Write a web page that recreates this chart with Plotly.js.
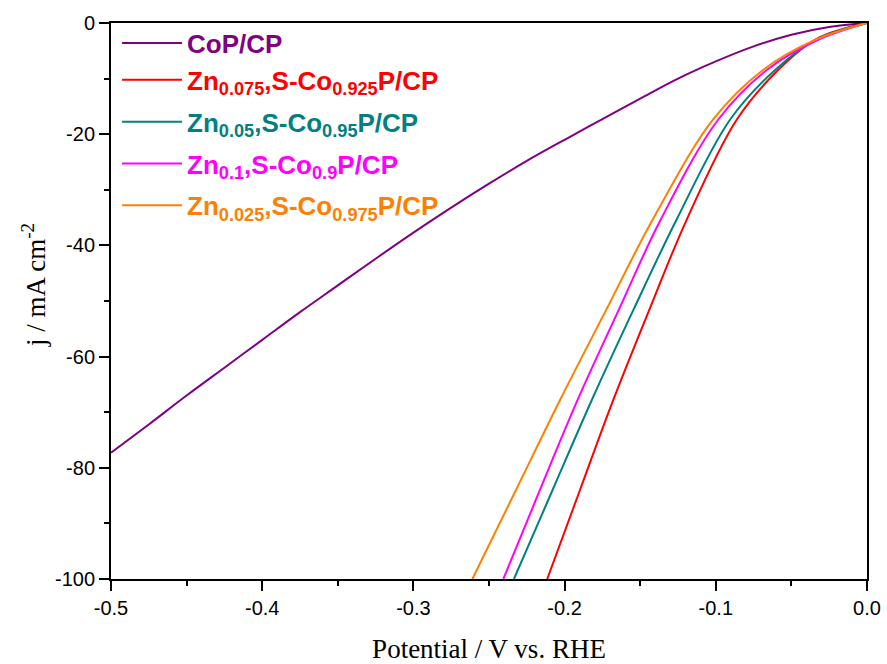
<!DOCTYPE html>
<html>
<head>
<meta charset="utf-8">
<script src="https://cdn.plot.ly/plotly-3.0.1.min.js"></script>
<style>html,body{margin:0;padding:0;background:#fff;}#chart{width:887px;height:664px;}</style>
</head>
<body>
<div id="chart"></div>
<script>
// Series names (legend labels)
const names = [
  'CoP/CP',
  'Zn<sub>0.075</sub>,S-Co<sub>0.925</sub>P/CP',
  'Zn<sub>0.05</sub>,S-Co<sub>0.95</sub>P/CP',
  'Zn<sub>0.1</sub>,S-Co<sub>0.9</sub>P/CP',
  'Zn<sub>0.025</sub>,S-Co<sub>0.975</sub>P/CP'
];
const colors = ['#800080', '#ff0000', '#008080', '#ff00ff', '#ff8000'];
const groups = ['a', 'a', 'b', 'c', 'd'];

// CoP/CP
const cop_V = [-0.5, -0.475, -0.45, -0.425, -0.4, -0.375, -0.35, -0.325, -0.3, -0.275, -0.25, -0.225, -0.2, -0.175, -0.15, -0.125, -0.1, -0.075, -0.05, -0.025, 0];
const cop_j = [-77.3, -72.2, -67.0, -62.0, -57.0, -52.0, -47.2, -42.4, -37.7, -33.2, -28.9, -24.8, -21.0, -17.3, -13.6, -10.0, -6.9, -4.2, -2.1, -0.7, 0];

// Zn0.075,S-Co0.925P/CP
const zn075_V = [-0.2115, -0.1897, -0.1678, -0.1440, -0.1193, -0.0862, -0.0588, -0.033, 0];
const zn075_j = [-100, -83.9, -67.8, -51.6, -35.4, -17.4, -8.45, -2.8, 0];

// Zn0.05,S-Co0.95P/CP
const zn05_V = [-0.2335, -0.2078, -0.1820, -0.1545, -0.1260, -0.0906, -0.0608, -0.033, 0];
const zn05_j = [-100, -83.9, -67.8, -51.6, -35.4, -17.4, -8.45, -2.9, 0];

// Zn0.1,S-Co0.9P/CP
const zn1_V = [-0.2405, -0.2162, -0.1914, -0.1642, -0.1365, -0.0985, -0.0663, -0.033, 0];
const zn1_j = [-100, -83.9, -67.8, -51.6, -35.4, -17.4, -8.45, -3.1, 0];

// Zn0.025,S-Co0.975P/CP
const zn025_V = [-0.2610, -0.2320, -0.2030, -0.1725, -0.1418, -0.1019, -0.0688, -0.034, 0];
const zn025_j = [-100, -83.9, -67.8, -51.6, -35.4, -17.4, -8.45, -3.0, 0];

const xs = [cop_V, zn075_V, zn05_V, zn1_V, zn025_V];
const ys = [cop_j, zn075_j, zn05_j, zn1_j, zn025_j];

const xTickVals = [-0.5, -0.4, -0.3, -0.2, -0.1, 0.0];
const xTickText = ['-0.5', '-0.4', '-0.3', '-0.2', '-0.1', '0.0'];
const yTickVals = [-100, -80, -60, -40, -20, 0];
const yTickText = ['-100', '-80', '-60', '-40', '-20', '0'];

const traces = names.map((n, i) => ({
  x: xs[i], y: ys[i], type: 'scatter', mode: 'lines',
  line: {color: colors[i], width: 2, shape: 'spline', smoothing: 1.0},
  name: '<span style="color:' + colors[i] + '"><b>' + n + '</b></span>',
  legendgroup: groups[i]
}));

const tickFont = {family: 'Liberation Sans, Arial, sans-serif', size: 20, color: '#000'};
const titleFont = {family: 'Liberation Serif, Times New Roman, serif', size: 27, color: '#000'};

const layout = {
  width: 887, height: 664,
  margin: {l: 111, r: 20, t: 23, b: 85},
  paper_bgcolor: '#fff', plot_bgcolor: '#fff',
  showlegend: true,
  legend: {
    x: 0.008, y: 1.006, xanchor: 'left', yanchor: 'top',
    bgcolor: 'rgba(0,0,0,0)', borderwidth: 0,
    font: {family: 'Liberation Sans, Arial, sans-serif', size: 26, color: '#000'},
    tracegroupgap: 5, itemwidth: 60, traceorder: 'grouped'
  },
  xaxis: {
    range: [-0.5, 0], tickvals: xTickVals, ticktext: xTickText,
    ticks: 'outside', ticklen: 10, tickwidth: 2, tickcolor: '#000',
    minor: {dtick: 0.05, tick0: 0, ticks: 'outside', ticklen: 5, tickwidth: 2, tickcolor: '#000', showgrid: false},
    showline: true, linewidth: 2, linecolor: '#000', mirror: true,
    showgrid: false, zeroline: false, tickfont: tickFont,
    title: {text: 'Potential / V vs. RHE', font: titleFont, standoff: 21}
  },
  yaxis: {
    range: [-100, 0], tickvals: yTickVals, ticktext: yTickText,
    ticks: 'outside', ticklen: 10, tickwidth: 2, tickcolor: '#000',
    minor: {dtick: 10, tick0: 0, ticks: 'outside', ticklen: 5, tickwidth: 2, tickcolor: '#000', showgrid: false},
    showline: true, linewidth: 2, linecolor: '#000', mirror: true,
    showgrid: false, zeroline: false, tickfont: tickFont
  },
  annotations: [{
    text: 'j / mA cm<sup>-2</sup>', xref: 'paper', yref: 'paper',
    x: (34 - 111) / 756, y: (579 - 285) / 556, xanchor: 'center', yanchor: 'middle',
    textangle: -90, showarrow: false, font: titleFont
  }]
};

Plotly.newPlot('chart', traces, layout, {displayModeBar: false, staticPlot: true});
</script>
</body>
</html>
